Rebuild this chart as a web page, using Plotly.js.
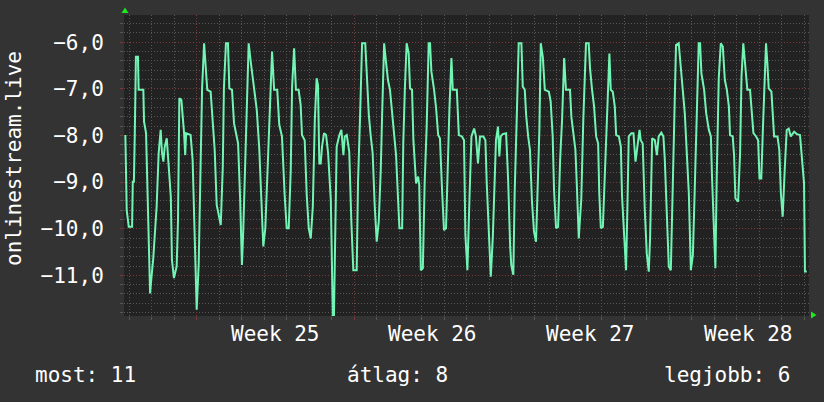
<!DOCTYPE html>
<html><head><meta charset="utf-8">
<script src="https://cdn.plot.ly/plotly-3.0.1.min.js"></script>
<style>html,body{margin:0;padding:0;background:#333333;}#chart{width:824px;height:402px;}</style>
</head><body><div id="chart"></div>
<script>
// time in days since the left edge of the graph
const days = [
0.06,0.12,0.21,0.36,0.39,0.44,0.48,0.53,0.62,0.65,0.86,0.89,0.98,1.04,1.16,1.21,1.30,1.45,1.54,1.63,
1.69,1.75,1.81,1.90,1.99,2.08,2.13,2.22,2.34,2.40,2.46,2.55,2.67,2.72,2.76,2.96,3.05,3.14,3.23,3.32,
3.41,3.47,3.56,3.61,3.70,3.85,3.91,4.03,4.12,4.21,4.30,4.39,4.44,4.53,4.62,4.68,4.80,4.89,4.98,5.04,
5.07,5.16,5.21,5.24,5.30,5.36,5.45,5.54,5.63,5.72,5.81,5.90,6.01,6.10,6.19,6.28,6.37,6.49,6.58,6.67,
6.81,6.90,7.02,7.14,7.23,7.32,7.41,7.47,7.56,7.64,7.76,7.85,7.91,8.03,8.12,8.21,8.30,8.39,8.48,8.56,
8.62,8.68,8.74,8.80,8.89,8.98,9.07,9.19,9.28,9.33,9.39,9.45,9.57,9.66,9.75,9.81,9.90,10.01,10.10,
10.19,10.34,10.40,10.49,10.58,10.72,10.79,10.88,10.96,11.05,11.14,11.23,11.32,11.41,11.47,
11.56,11.64,11.73,11.82,11.91,12.00,12.09,12.18,12.24,12.36,12.41,12.48,12.56,12.65,12.71,
12.80,12.86,12.98,13.07,13.12,13.19,13.28,13.36,13.45,13.54,13.60,13.66,13.78,13.87,13.96,
14.04,14.13,14.22,14.31,14.37,14.46,14.55,14.61,14.79,14.88,15.02,15.11,
15.17,15.26,15.35,15.44,15.56,15.64,15.73,15.82,15.97,16.06,16.12,16.24,16.30,16.39,16.48,
16.53,16.62,16.68,16.74,16.83,16.98,17.07,17.16,17.21,17.30,17.36,17.45,17.54,17.66,17.72,
17.81,17.87,17.96,18.04,18.13,18.22,18.31,18.40,18.46,18.52,18.61,18.70,18.88,18.96,19.05,
19.11,19.20,19.29,19.38,19.47,19.56,19.64,19.82,19.88,19.97,20.06,20.12,20.21,
20.24,20.32,20.41,20.53,20.65,20.71,20.80,20.89,20.98,21.07,21.12,21.19,21.28,21.36,21.45,
21.57,21.63,21.72,21.81,21.87,21.99,22.08,22.13,22.22,22.31,22.37,22.43,22.55,22.64,22.73,
22.82,22.91,22.96,23.05,23.14,23.23,23.32,23.38,23.47,23.59,23.68,23.76,23.88,23.97,24.03,
24.12,24.21,24.30,24.36,24.44,24.53,24.65,24.74,24.83,24.92,25.01,25.10,25.19,25.28,
25.36,25.45,25.54,25.60,25.66,25.78,25.87,25.99,26.08,26.13,26.22,26.28,26.34,26.43,26.52,
26.61,26.70,26.79,26.88,26.93,27.05,27.11,27.17,27.29,27.38,27.44,27.52,27.61,27.70,27.82,
27.88,27.97,28.09,28.18,28.24,28.32,28.39,28.48,28.53,28.59,28.65,28.77,28.89,29.04,29.12,
29.19,29.27,29.36,29.45,29.54,29.63,29.78,29.90,30.04,30.13,30.22,30.26,30.34
];
const values = [
-7.99,-9.60,-9.96,-9.96,-8.99,-8.99,-7.95,-6.31,-6.31,-7.02,-7.02,-7.70,-7.95,-9.31,-11.39,-11.10,-10.64,-9.53,-8.38,-7.88,
-8.38,-8.56,-8.24,-8.06,-8.67,-9.31,-10.67,-11.06,-10.81,-9.81,-7.20,-7.24,-7.95,-8.42,-7.95,-7.99,-8.53,-10.06,-11.74,-10.74,
-8.88,-6.99,-6.02,-6.31,-7.02,-7.06,-7.45,-8.31,-9.49,-9.71,-9.92,-8.67,-6.99,-6.02,-6.02,-6.99,-7.02,-7.74,-7.99,-8.17,
-8.17,-9.35,-10.03,-10.78,-10.03,-8.88,-7.27,-6.02,-6.41,-6.74,-7.02,-7.45,-8.27,-9.28,-10.38,-9.99,-8.85,-7.42,-6.20,-7.02,
-7.02,-7.77,-8.02,-9.28,-9.99,-9.99,-8.74,-6.95,-6.13,-7.02,-7.02,-7.34,-7.99,-8.10,-9.28,-9.99,-10.21,-9.53,-7.67,-6.77,
-6.92,-8.60,-8.60,-8.24,-7.95,-7.99,-8.38,-9.38,-11.85,-11.85,-10.10,-8.24,-7.99,-7.88,-8.42,-8.02,-7.99,-8.35,-9.81,
-10.89,-10.89,-8.99,-7.60,-6.02,-6.02,-6.67,-7.56,-7.99,-8.38,-9.49,-10.28,-9.85,-8.74,-7.56,
-6.02,-6.41,-6.81,-7.02,-7.49,-8.02,-8.42,-9.38,-9.99,-9.99,-8.17,-7.02,-6.02,-6.24,-6.99,
-7.02,-8.10,-9.03,-8.88,-9.06,-10.89,-10.85,-9.03,-7.81,-6.02,-6.02,-6.63,-7.02,-7.42,-7.99,
-8.06,-9.13,-10.03,-9.99,-8.88,-7.45,-6.34,-7.02,-7.02,-7.99,-8.02,-8.10,
-10.13,-10.89,-9.38,-8.02,-7.85,-8.02,-8.60,-8.02,-8.02,-8.10,-9.03,-10.17,-11.03,-10.17,-8.45,
-8.10,-7.81,-8.45,-8.02,-7.97,-7.95,-8.95,-10.38,-10.78,-10.99,-9.24,-7.67,-6.02,-6.02,-6.95,
-7.02,-7.56,-8.02,-8.31,-9.42,-10.06,-10.28,-9.03,-7.85,-6.02,-6.31,-7.02,-7.06,-7.27,-8.02,
-9.17,-9.99,-9.96,-8.53,-7.63,-6.34,-7.02,-7.02,-7.60,-8.02,-8.31,-9.03,-10.21,
-9.96,-9.38,-7.67,-6.02,-6.02,-6.56,-7.02,-7.38,-8.02,-8.17,-9.24,-9.99,-9.96,-8.92,-7.95,
-6.24,-7.02,-7.06,-7.38,-7.99,-8.02,-8.24,-9.28,-10.21,-10.89,-9.53,-8.02,-7.95,-7.95,-8.56,
-8.27,-7.88,-8.10,-8.17,-9.56,-10.53,-10.92,-10.17,-8.06,-8.10,-8.42,-8.02,-7.94,-8.02,-8.49,
-9.49,-10.81,-10.89,-9.53,-7.77,-6.06,-6.02,-6.63,-7.02,-7.52,-8.31,-9.24,-10.89,-10.56,
-9.20,-7.70,-6.02,-6.02,-6.67,-7.02,-7.52,-7.88,-8.02,-8.88,-10.24,-10.85,-8.88,-6.77,-6.02,
-6.09,-6.81,-7.02,-7.38,-7.99,-8.02,-8.42,-9.35,-9.42,-8.35,-6.74,-6.02,-6.45,-7.02,-7.02,
-7.49,-7.95,-8.02,-8.10,-8.92,-8.92,-7.88,-6.67,-6.02,-6.45,-6.99,-7.06,-8.02,-8.02,-8.31,
-9.24,-9.74,-8.74,-7.88,-7.85,-8.02,-7.92,-7.97,-7.99,-8.45,-9.03,-10.92,-10.92
];
const weekStarts = [3.23, 10.23, 17.23, 24.23];
const weekLabels = ['Week 25', 'Week 26', 'Week 27', 'Week 28'];
const yTickValues = [-6, -7, -8, -9, -10, -11];
const legendTexts = ['most: 11', 'átlag: 8', 'legjobb: 6'];
const yTitle = 'onlinestream.live';

const W = 824, H = 402, L = 124, R = 15, T = 15, B = 86;
const pw = W - L - R, ph = H - T - B;
const px = x => (x - L) / pw;
const py = y => (H - B - y) / ph;

const mono = '"DejaVu Sans Mono", "Liberation Mono", monospace';
const textColor = '#ffffff';
const gridGray = '#575757';
const gridRed = '#783a3a';

const weekCenters = weekStarts.map(d => d + 3.5);

const annotations = weekLabels.map((t, i) => ({
  text: t, x: weekCenters[i], xref: 'x', y: 0, yref: 'paper',
  xanchor: 'center', yanchor: 'top', yshift: -4, showarrow: false,
  font: {family: mono, size: 21, color: textColor}
}));
const legendX = [33, 345, 662];
legendTexts.forEach((t, i) => annotations.push({
  text: t, x: px(legendX[i]), xref: 'paper', y: py(375), yref: 'paper',
  xanchor: 'left', yanchor: 'middle', showarrow: false,
  font: {family: mono, size: 21, color: textColor}
}));
annotations.push({
  text: yTitle, x: px(14), xref: 'paper', y: py(159), yref: 'paper',
  xanchor: 'center', yanchor: 'middle', textangle: -90, showarrow: false,
  font: {family: mono, size: 21, color: textColor}
});

const green = '#1ee81e';
const shapes = [
  {type: 'path', xref: 'paper', yref: 'paper', fillcolor: green, line: {width: 0},
   path: `M${px(121.5)},${py(13)} L${px(128.5)},${py(13)} L${px(125)},${py(7.5)} Z`},
  {type: 'path', xref: 'paper', yref: 'paper', fillcolor: green, line: {width: 0},
   path: `M${px(811)},${py(311.5)} L${px(811)},${py(318.5)} L${px(816.5)},${py(315)} Z`}
];

const trace = {
  x: days, y: values, type: 'scatter', mode: 'lines',
  line: {color: '#72f5b4', width: 2}, hoverinfo: 'skip'
};

const layout = {
  width: W, height: H,
  margin: {l: L, r: R, t: T, b: B, pad: 0},
  paper_bgcolor: '#333333', plot_bgcolor: '#222222',
  separators: ',.',
  showlegend: false,
  font: {family: mono, size: 21, color: textColor},
  xaxis: {
    range: [0, 30.44], tickmode: 'array', tickvals: weekStarts, showticklabels: false,
    showgrid: true, gridcolor: gridRed, griddash: '1px,2px', gridwidth: 1,
    ticks: 'outside', ticklen: 3, tickcolor: gridRed, zeroline: false, showline: false,
    minor: {tickmode: 'linear', tick0: weekStarts[0], dtick: 1, showgrid: true,
            gridcolor: gridGray, griddash: '1px,2px', ticks: 'outside', ticklen: 3, tickcolor: gridGray},
    fixedrange: true
  },
  yaxis: {
    range: [-11.873, -5.414], tickmode: 'array', tickvals: yTickValues, tickformat: '.1f',
    showgrid: true, gridcolor: gridRed, griddash: '1px,2px', gridwidth: 1,
    ticks: 'outside', ticklen: 3, tickcolor: gridRed, ticklabelstandoff: 12,
    zeroline: false, showline: false,
    tickfont: {family: mono, size: 21, color: textColor},
    minor: {tickmode: 'linear', tick0: -6, dtick: 0.2, showgrid: true,
            gridcolor: gridGray, griddash: '1px,2px', ticks: 'outside', ticklen: 3, tickcolor: gridGray},
    fixedrange: true
  },
  annotations: annotations,
  shapes: shapes
};

Plotly.newPlot('chart', [trace], layout, {displayModeBar: false, staticPlot: true});
</script>
</body></html>
